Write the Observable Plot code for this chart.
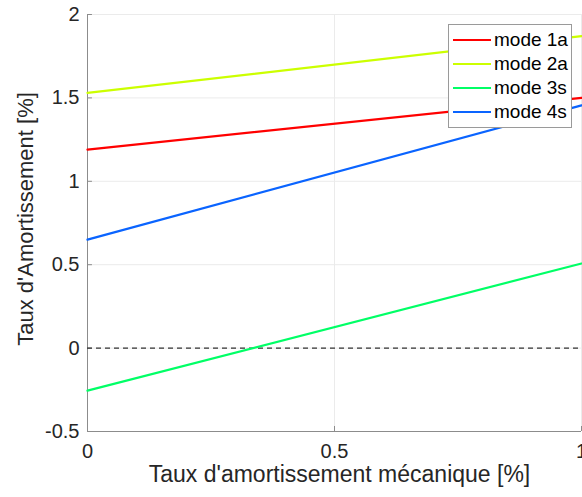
<!DOCTYPE html>
<html>
<head>
<meta charset="utf-8">
<script src="https://cdn.jsdelivr.net/npm/d3@7"></script>
<script src="https://cdn.jsdelivr.net/npm/@observablehq/plot@0.6"></script>
<style>
  html, body { margin: 0; padding: 0; background: #fff; }
  #chart { position: relative; width: 582px; height: 497px; overflow: hidden; }
  .legend { position: absolute; left: 448px; top: 24px; width: 124px; height: 104px;
    border: 1px solid #9a9a9a; background: #fff; font-family: "Liberation Sans", Arial, sans-serif;
    font-size: 19px; color: #000; box-sizing: border-box; padding-top: 3px; }
  .legend .row { display: flex; align-items: center; height: 24px; }
  .legend .sw { width: 38px; height: 2px; margin-left: 4px; margin-right: 3px; }
</style>
</head>
<body>
<div id="chart"></div>
<script>
const modes = ["mode 1a", "mode 2a", "mode 3s", "mode 4s"];
const colors = ["#ff0000", "#ccff00", "#00ff66", "#0a64ff"];
const xValues = [0, 1];
const mode1a = [1.19, 1.50];
const mode2a = [1.53, 1.87];
const mode3s = [-0.255, 0.507];
const mode4s = [0.65, 1.455];
const xTicks = [0, 0.5, 1];
const yTicks = [-0.5, 0, 0.5, 1, 1.5, 2];

const series = [mode1a, mode2a, mode3s, mode4s];
const data = [];
series.forEach((s, i) => s.forEach((v, j) => data.push({mode: modes[i], x: xValues[j], y: v})));

const font = "'Liberation Sans', Arial, sans-serif";
const fmt = d => d === 0 ? "0" : String(d);

const chart = Plot.plot({
  width: 582, height: 497,
  marginLeft: 87, marginRight: 1, marginTop: 14, marginBottom: 66,
  style: {fontFamily: font, fontSize: "20px", color: "#262626", background: "#fff", overflow: "visible"},
  x: {type: "linear", domain: [0, 1], ticks: xTicks, label: null},
  y: {type: "linear", domain: [-0.5, 2], ticks: yTicks, label: null},
  color: {domain: modes, range: colors},
  marks: [
    Plot.gridX(xTicks, {stroke: "#ebebeb", strokeOpacity: 1}),
    Plot.gridY(yTicks, {stroke: "#ebebeb", strokeOpacity: 1}),
    Plot.ruleY([-0.5], {stroke: "#8c8c8c", strokeWidth: 1}),
    Plot.ruleX([0], {stroke: "#8c8c8c", strokeWidth: 1}),
    Plot.ruleX(xTicks, {x: d => d, y1: -0.5, y2: -0.5 + 0.03, stroke: "#8c8c8c", strokeWidth: 1}),
    Plot.ruleY(yTicks, {y: d => d, x1: 0, x2: 0.01, stroke: "#8c8c8c", strokeWidth: 1}),
    Plot.axisX(xTicks, {tickSize: 0, tickPadding: 12, tickFormat: fmt, fontSize: 20, fill: "#262626"}),
    Plot.axisY(yTicks, {tickSize: 0, tickPadding: 8, tickFormat: fmt, fontSize: 20, fill: "#262626"}),
    Plot.ruleY([0], {x1: 0, x2: 1, stroke: "#333", strokeWidth: 1.2, strokeDasharray: "5,4"}),
    Plot.line(data, {x: "x", y: "y", z: "mode", stroke: "mode", strokeWidth: 2.2}),
    Plot.text(["Taux d'amortissement mécanique [%]"], {frameAnchor: "bottom", dx: 5, dy: 43, fontSize: 23, fill: "#262626", lineAnchor: "middle", textAnchor: "middle"}),
    Plot.text(["Taux d'Amortissement [%]"], {frameAnchor: "left", dx: -62, dy: -4, rotate: -90, fontSize: 22, fill: "#262626", textAnchor: "middle", lineAnchor: "middle"})
  ]
});
document.getElementById("chart").appendChild(chart);

const legend = document.createElement("div");
legend.className = "legend";
modes.forEach((m, i) => {
  const row = document.createElement("div");
  row.className = "row";
  const sw = document.createElement("div");
  sw.className = "sw";
  sw.style.background = colors[i];
  const t = document.createElement("span");
  t.textContent = m;
  row.appendChild(sw); row.appendChild(t);
  legend.appendChild(row);
});
document.getElementById("chart").appendChild(legend);
</script>
</body>
</html>
